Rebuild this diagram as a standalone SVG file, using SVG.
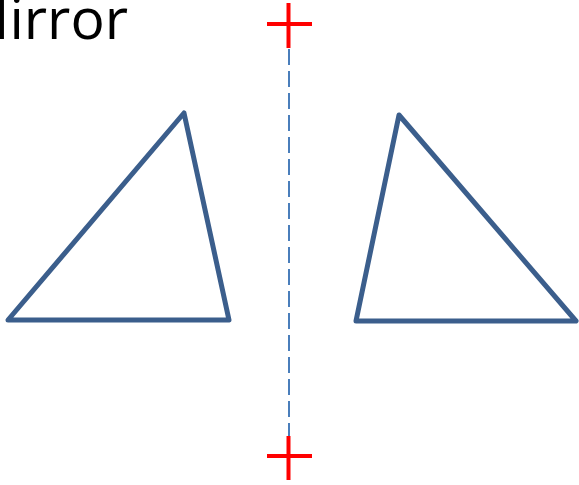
<svg xmlns="http://www.w3.org/2000/svg" width="579" height="485" viewBox="0 0 579 485">
<style>
.tri{fill:none;stroke:#3B5E8C;stroke-width:5;stroke-linejoin:round;stroke-linecap:round}
.cross{stroke:#FF0000;stroke-width:4;fill:none}
.axis{stroke:#4A7EBB;stroke-width:2;stroke-dasharray:16 6;fill:none}
.title{font-family:"Open Sans","Liberation Sans",sans-serif;font-size:57px;fill:#000}
</style>
<rect width="579" height="485" fill="#fff"/>
<text class="title" x="128" y="39" text-anchor="end">Mirror</text>
<g id="connectors">
<line class="axis" x1="289" y1="49" x2="289" y2="438"/>
</g>
<g id="cross-top">
<line class="cross" x1="267" y1="24" x2="312" y2="24"/>
<line class="cross" x1="288.5" y1="3" x2="288.5" y2="48"/>
</g>
<g id="cross-bottom">
<line class="cross" x1="267" y1="456" x2="312" y2="456"/>
<line class="cross" x1="288.5" y1="436" x2="288.5" y2="480"/>
</g>
<g id="triangle-left">
<polygon class="tri" points="8,320 184,113 229,320"/>
</g>
<g id="triangle-right">
<polygon class="tri" points="356,321 399,115 576,321"/>
</g>
</svg>
